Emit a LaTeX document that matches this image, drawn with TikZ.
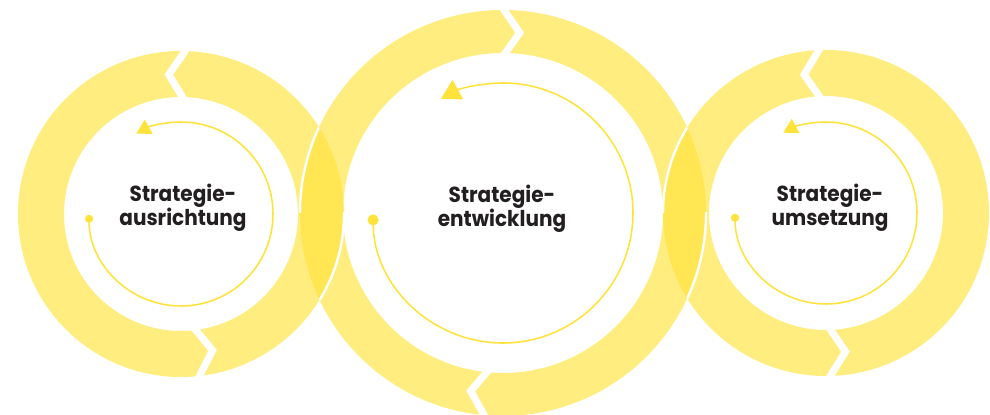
\documentclass[tikz,border=0pt]{standalone}
\usepackage{fontspec}
\newfontfamily\labelfont{Poppins}[FakeStretch=0.92]
\usetikzlibrary{arrows.meta,calc}
\definecolor{sun}{HTML}{FFE33A}
\definecolor{ink}{HTML}{231F20}
\tikzset{
  band/.style={fill=sun,opacity=0.65,even odd rule},
  notch/.style={white,line width=1.8mm,line join=miter},
  seam/.style={white,line width=0.6mm},
  cyc/.style={sun,line width=1.1pt,{Circle[length=2mm]}-{Triangle[length=3.5mm,width=4mm]}},
  bigcyc/.style={cyc,{Circle[length=2.75mm]}-{Triangle[length=4.8mm,width=5.5mm]}},
  lbl/.style={font=\labelfont\bfseries\fontsize{15.5}{17}\selectfont,text=ink,align=center},
}

\begin{document}
\begin{tikzpicture}[x=0.25mm,y=0.25mm]
  \useasboundingbox (0,0) rectangle (990,414);
  \coordinate (cl) at (181,200);
  \coordinate (cm) at (503,201);
  \coordinate (cr) at (826,201);

  % ---------- the three bands ----------
  \fill[band] (cl) circle (163) (cl) circle (117);
  \fill[band] (cr) circle (163) (cr) circle (117);
  \fill[band] (cm) circle (203) (cm) circle (160);

  % ---------- chevron cuts (outer, tip, inner) ----------
  % left and right turn counter-clockwise, middle clockwise
  \foreach \c/\a/\d/\ro/\rm/\ri in {cl/87/8/170/140/110, cl/275/8/170/140/110,
                                    cr/91/8/170/140/110, cr/270/8/170/140/110,
                                    cm/91/-6.3/210/181/153, cm/266/-6.3/210/181/153}
    \draw[notch] ($(\c)+(\a:\ro)$) -- ($(\c)+(\a+\d:\rm)$) -- ($(\c)+(\a:\ri)$);

  % ---------- seams where the rings interlock ----------
  \begin{scope}
    \clip (cl) circle (163);
    \clip (0,201) rectangle (990,414);
    \draw[seam] (cm) circle (203);
  \end{scope}
  \begin{scope}
    \clip (cm) circle (203);
    \clip (0,0) rectangle (990,201);
    \draw[seam] (cl) circle (163);
  \end{scope}
  \begin{scope}
    \clip (cm) circle (203);
    \clip (0,201) rectangle (990,414);
    \draw[seam] (cr) circle (163);
  \end{scope}
  \begin{scope}
    \clip (cr) circle (163);
    \clip (0,0) rectangle (990,201);
    \draw[seam] (cm) circle (203);
  \end{scope}

  % ---------- inner cycle arrows ----------
  \draw[cyc] ($(cl)+(180.5:92)$) arc[start angle=180.5,end angle=479,radius=92];
  \draw[bigcyc] ($(cm)+(180.6:130)$) arc[start angle=180.6,end angle=478.5,radius=130];
  \draw[cyc] ($(cr)+(180.5:91)$) arc[start angle=180.5,end angle=478,radius=91];

  % ---------- labels ----------
  \node[lbl] (ausr) at (183,206) {Strategie-\\ausrichtung};
  \node[lbl] (entw) at (502,205.5) {Strategie-\\entwicklung};
  \node[lbl] (umse) at (830,206) {Strategie-\\umsetzung};
\end{tikzpicture}
\end{document}
